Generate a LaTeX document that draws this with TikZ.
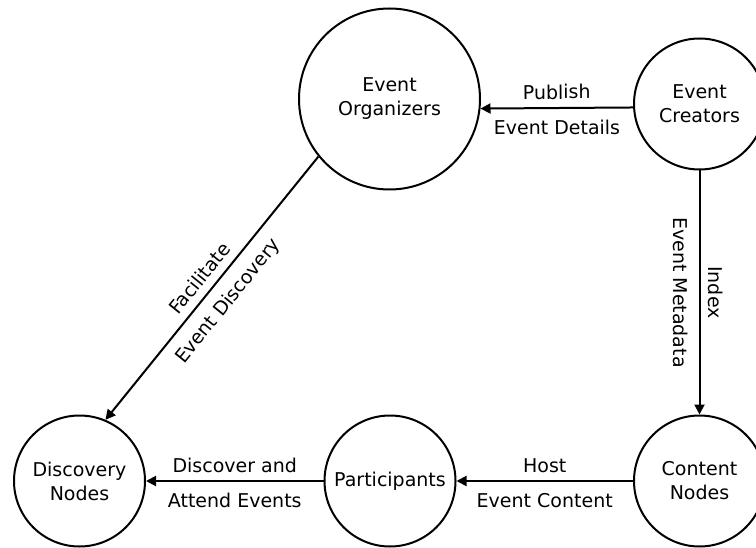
\documentclass[tikz,border=0pt]{standalone}
\usepackage{fontspec}
\setmainfont{DejaVu Sans}
\usetikzlibrary{arrows.meta}

\newcommand{\labfont}{\fontsize{19bp}{24bp}\selectfont}

\tikzset{
  actor/.style={draw, circle, line width=2bp, align=center, inner sep=0pt, font=\labfont},
  flow/.style={line width=2bp, -{Triangle[length=10bp,width=10bp]}},
  labup/.style={sloped, anchor=south, inner sep=0pt, text depth=0pt, outer ysep=9bp, font=\labfont},
  labdown/.style={sloped, anchor=north, inner sep=0pt, text height=13.5bp, outer ysep=13bp, font=\labfont},
}

\begin{document}
\begin{tikzpicture}[x=1bp, y=1bp]
  \useasboundingbox (0,0) rectangle (756,-548);

  % the five parties
  \node[actor, minimum size=181bp] (org) at (389.5,-99) {Event\\Organizers};
  \node[actor, minimum size=131bp] (cre) at (699.5,-104) {Event\\Creators};
  \node[actor, minimum size=131bp] (con) at (699.5,-481) {Content\\Nodes};
  \node[actor, minimum size=131bp] (par) at (390,-481) {Participants};
  \node[actor, minimum size=131bp] (dis) at (79.5,-481) {Discovery\\Nodes};

  % flows between them
  \draw[flow] (cre.183.5) -- (org.354.3)
    node[labup, midway] {Publish} node[labdown, midway] {Event Details};
  \draw[flow] (cre.south) -- (con.north)
    node[labup, midway] {Index} node[labdown, midway] {Event Metadata};
  \draw[flow] (org.219) -- (dis.67)
    node[labup, midway] {Facilitate} node[labdown, midway] {Event Discovery};
  \draw[flow] (con.west) -- (par.east)
    node[labup, midway] {Host} node[labdown, midway] {Event Content};
  \draw[flow] (par.west) -- (dis.east)
    node[labup, midway] {Discover and} node[labdown, midway] {Attend Events};
\end{tikzpicture}
\end{document}
